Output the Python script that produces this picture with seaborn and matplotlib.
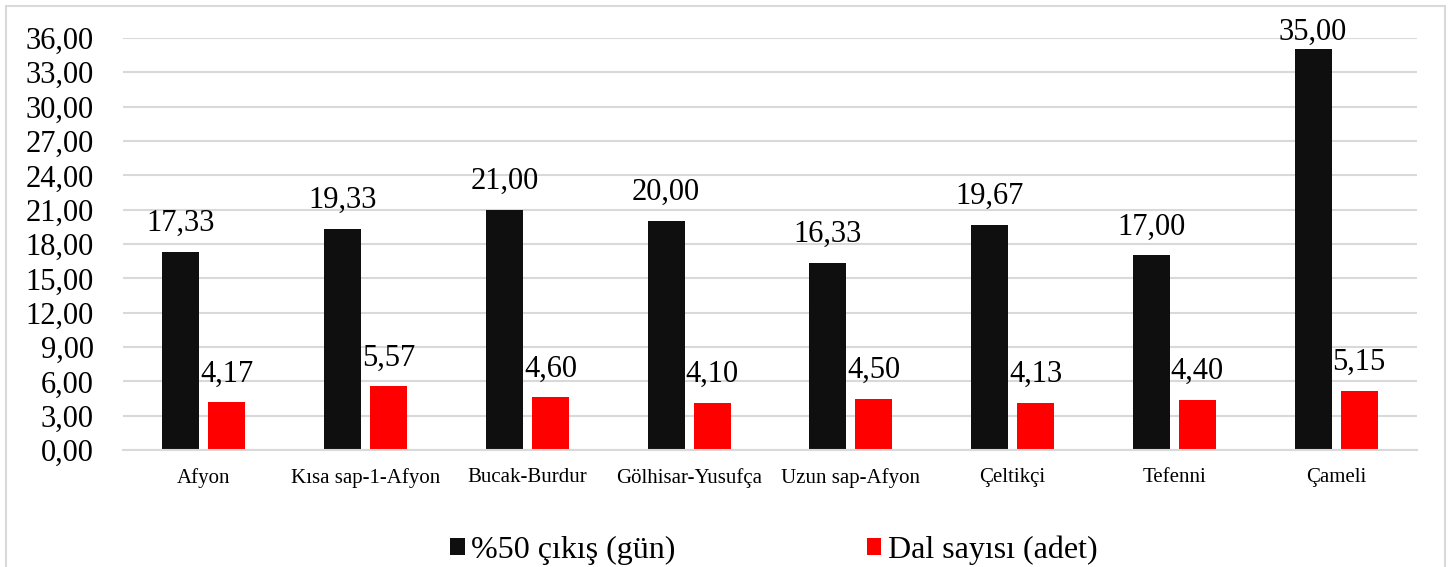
import matplotlib
matplotlib.use("Agg")
import matplotlib.pyplot as plt
from matplotlib.ticker import FuncFormatter, MultipleLocator
from matplotlib.patches import Rectangle
import pandas as pd
import seaborn as sns

# Data
locations = ["Afyon", "Kısa sap-1-Afyon", "Bucak-Burdur", "Gölhisar-Yusufça",
             "Uzun sap-Afyon", "Çeltikçi", "Tefenni", "Çameli"]
emergence_days = [17.33, 19.33, 21.00, 20.00, 16.33, 19.67, 17.00, 35.00]
branch_count = [4.17, 5.57, 4.60, 4.10, 4.50, 4.13, 4.40, 5.15]
series_names = ["%50 çıkış (gün)", "Dal sayısı (adet)"]
series_colors = ["#0f0f0f", "#ff0000"]

df = pd.DataFrame({"Lokasyon": locations,
                   series_names[0]: emergence_days,
                   series_names[1]: branch_count})
long_df = df.melt(id_vars="Lokasyon", var_name="Seri", value_name="Değer")

def comma_fmt(x, _=None):
    return f"{x:.2f}".replace(".", ",")

sns.set_theme(style="white")
plt.rcParams["font.family"] = ["Liberation Serif", "DejaVu Serif"]
plt.rcParams["text.color"] = "#000000"

fig = plt.figure(figsize=(14.52, 5.67), dpi=100)
ax = fig.add_axes([0.0847, 0.2063, 0.8912, 0.7267])

sns.barplot(data=long_df, x="Lokasyon", y="Değer", hue="Seri",
            hue_order=series_names, order=locations,
            palette=series_colors, saturation=1,
            width=0.57, gap=0.2, linewidth=0, ax=ax)

ax.set_ylim(0, 36)

# value labels; labels that would leave the plot area are pulled down (like Excel does)
for container in ax.containers:
    anns = ax.bar_label(container, labels=[comma_fmt(b.get_height()) for b in container],
                        padding=10, fontsize=22, color="#000000")
    for bar, ann in zip(container, anns):
        if bar.get_height() > 33:
            ann.xyann = (0, 2)

ax.set_xlim(-0.5, len(locations) - 0.5)
ax.yaxis.set_major_locator(MultipleLocator(3))
ax.yaxis.set_major_formatter(FuncFormatter(comma_fmt))
ax.grid(axis="y", color="#d9d9d9", linewidth=1.5)
ax.set_axisbelow(True)
for side in ["top", "right", "left"]:
    ax.spines[side].set_visible(False)
ax.spines["bottom"].set_color("#d9d9d9")
ax.spines["bottom"].set_linewidth(1.5)
ax.tick_params(axis="y", length=0, pad=21, labelsize=22, labelcolor="#000000")
ax.tick_params(axis="x", length=0, pad=13, labelsize=15, labelcolor="#000000")
ax.set_xlabel("")
ax.set_ylabel("")

ax.legend(loc="center", bbox_to_anchor=(0.533, 0.03), bbox_transform=fig.transFigure,
          ncol=2, frameon=False, fontsize=23, handlelength=0.45, handleheight=0.45,
          handletextpad=0.2, columnspacing=6)

# light frame around the chart area
fig.patches.append(Rectangle((6 / 1452, -0.02), 1439 / 1452, 1.02 - 6 / 567,
                             transform=fig.transFigure, fill=False,
                             edgecolor="#d9d9d9", linewidth=1.5))

fig.savefig("out.png", dpi=100)
